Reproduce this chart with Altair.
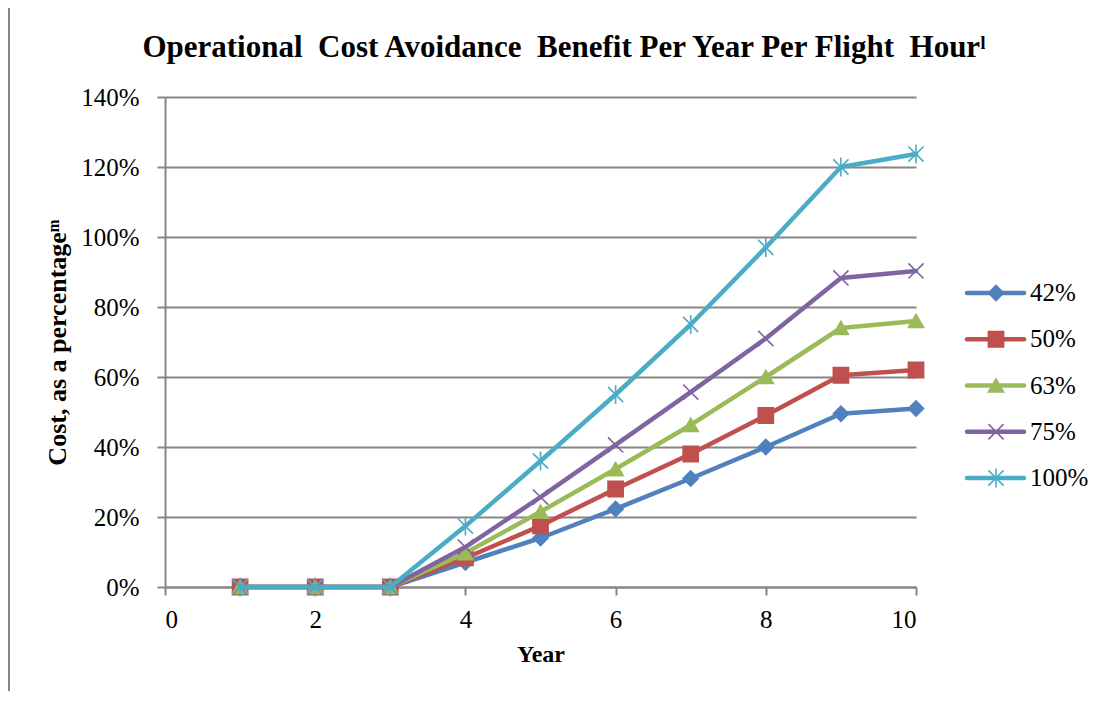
import altair as alt
import pandas as pd

years = list(range(1, 11))
series = ["42%", "50%", "63%", "75%", "100%"]
v42 = [0, 0, 0, 7.0, 14.0, 22.3, 31.0, 40.0, 49.5, 51.0]
v50 = [0, 0, 0, 8.3, 17.5, 28.0, 38.0, 49.0, 60.5, 62.0]
v63 = [0, 0, 0, 9.7, 21.5, 33.7, 46.3, 60.0, 74.0, 76.0]
v75 = [0, 0, 0, 11.4, 25.7, 40.6, 55.7, 71.0, 88.3, 90.3]
v100 = [0, 0, 0, 17.4, 36.0, 55.0, 75.0, 97.0, 120.0, 123.7]
x_ticks = [0, 2, 4, 6, 8, 10]
y_ticks = [0, 0.2, 0.4, 0.6, 0.8, 1.0, 1.2, 1.4]
title_text = "Operational\u00a0 Cost Avoidance\u00a0 Benefit Per Year Per Flight\u00a0 Hourˡ"

colors = ["#4F81BD", "#C0504D", "#9BBB59", "#8064A2", "#4BACC6"]
fills = ["#4F81BD", "#C0504D", "#9BBB59", "transparent", "transparent"]
shapes = ["diamond", "square", "triangle-up",
          "M-1,-1L1,1M-1,1L1,-1",
          "M-1,-1L1,1M-1,1L1,-1M0,-1.25L0,1.25"]

values = [v42, v50, v63, v75, v100]
rows = []
for s, vals in zip(series, values):
    for yr, v in zip(years, vals):
        rows.append({"series": s, "year": yr, "value": v / 100.0})
df = pd.DataFrame(rows)
leg = pd.DataFrame({"series": series, "idx": list(range(len(series)))})
tdf = pd.DataFrame({"t": [title_text]})

FONT = "Liberation Serif"
GRAY = "#868686"

color_scale = alt.Scale(domain=series, range=colors)
fill_scale = alt.Scale(domain=series, range=fills)
shape_scale = alt.Scale(domain=series, range=shapes)

x_enc = alt.X("year:Q", scale=alt.Scale(domain=[0, 10], nice=False),
              axis=alt.Axis(values=x_ticks, title="Year", grid=False, format="d"))
y_enc = alt.Y("value:Q", scale=alt.Scale(domain=[0, 1.4], nice=False),
              axis=alt.Axis(values=y_ticks, format=".0%", title="Cost, as a percentageᵐ",
                            grid=True))

layers = []
for s in series:
    base = alt.Chart(df).transform_filter(alt.datum.series == s)
    line = base.mark_line(strokeWidth=4.5, strokeCap="round", strokeJoin="round").encode(
        x=x_enc, y=y_enc,
        color=alt.Color("series:N", scale=color_scale, legend=None))
    pts = base.mark_point(size=230, strokeWidth=1.6, opacity=1).encode(
        x=x_enc, y=y_enc,
        stroke=alt.Stroke("series:N", scale=color_scale, legend=None),
        fill=alt.Fill("series:N", scale=fill_scale, legend=None),
        shape=alt.Shape("series:N", scale=shape_scale, legend=None))
    layers += [line, pts]

frame = alt.Chart(leg).mark_rule(color=GRAY, strokeWidth=2).encode(
    x=alt.value(-156), y=alt.value(-97), y2=alt.value(610))
title = alt.Chart(tdf).mark_text(font=FONT, fontSize=31, fontWeight="bold", color="black",
                                 align="center", baseline="alphabetic").encode(
    x=alt.value(399), y=alt.value(-40), text="t:N")
layers += [frame, title]
main = alt.layer(*layers)

ly = alt.Y("idx:Q", scale=alt.Scale(domain=[0, 4], range=[196, 381], nice=False, zero=False),
           axis=None)
lrule = alt.Chart(leg).mark_rule(strokeWidth=4.5, strokeCap="round").encode(
    x=alt.value(802), x2=alt.value(859), y=ly,
    color=alt.Color("series:N", scale=color_scale, legend=None))
lpts = alt.Chart(leg).mark_point(size=230, strokeWidth=1.6, opacity=1).encode(
    x=alt.value(831), y=ly,
    stroke=alt.Stroke("series:N", scale=color_scale, legend=None),
    fill=alt.Fill("series:N", scale=fill_scale, legend=None),
    shape=alt.Shape("series:N", scale=shape_scale, legend=None))
ltext = alt.Chart(leg).mark_text(align="left", baseline="middle", font=FONT,
                                 fontSize=25, color="black").encode(
    x=alt.value(865), y=ly, text="series:N")
legend = alt.layer(lrule, lpts, ltext)

chart = alt.layer(main, legend).resolve_scale(y="independent").properties(
    width=751, height=490,
    autosize=alt.AutoSizeParams(type="none"),
    padding={"left": 157, "top": 89, "right": 180, "bottom": 104},
).configure_view(stroke=None).configure_axis(
    labelFont=FONT, labelFontSize=25, labelColor="black",
    titleFont=FONT, titleFontSize=26, titleFontWeight="bold", titleColor="black",
    domainColor=GRAY, domainWidth=2, tickColor=GRAY, tickWidth=2, tickSize=8,
    gridColor=GRAY, gridWidth=2,
).configure_axisY(labelPadding=18, titlePadding=10).configure_axisX(
    labelPadding=12, titlePadding=10, titleFontSize=24)

chart.save("out.html", embed_options={"renderer": "svg", "actions": False})
